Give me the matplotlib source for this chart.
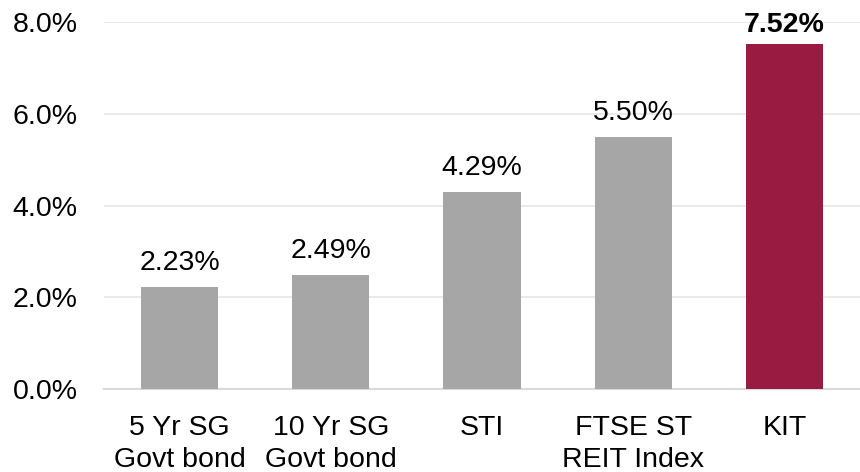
import numpy as np
import matplotlib
matplotlib.use("Agg")
import matplotlib.pyplot as plt

plt.rcParams['font.family'] = ['Liberation Sans', 'DejaVu Sans']

categories = ["5 Yr SG\nGovt bond", "10 Yr SG\nGovt bond", "STI", "FTSE ST\nREIT Index", "KIT"]
yields = [2.23, 2.49, 4.29, 5.50, 7.52]
colors = ["#A6A6A6", "#A6A6A6", "#A6A6A6", "#A6A6A6", "#9A1B41"]

fig = plt.figure(figsize=(8.6, 4.72), dpi=100)
ax = fig.add_axes([0.121, 0.176, 0.879, 0.777])

x = np.arange(len(categories))
ax.bar(x, yields, width=0.51, color=colors, zorder=3)

for i, v in enumerate(yields):
    kit = categories[i] == "KIT"
    ax.annotate("%.2f%%" % v, (x[i], v), xytext=(0, 4.5 if kit else 8), textcoords="offset points",
                ha="center", va="bottom", fontsize=20.5,
                fontweight="bold" if kit else "normal")

ax.set_ylim(0, 8)
ax.set_xlim(-0.5, len(categories) - 0.5)
ax.set_yticks([0, 2, 4, 6, 8])
ax.set_yticklabels(["%.1f%%" % t for t in [0, 2, 4, 6, 8]])
ax.set_xticks(x)
ax.set_xticklabels(categories, linespacing=1.28)
ax.tick_params(axis="both", length=0, labelsize=20.5)
ax.tick_params(axis="y", pad=19)
ax.tick_params(axis="x", pad=19)
ax.yaxis.grid(True, color="#E6E6E6", linewidth=1.2, zorder=0)
for s in ["top", "right", "left"]:
    ax.spines[s].set_visible(False)
ax.spines["bottom"].set_color("#D9D9D9")
ax.spines["bottom"].set_linewidth(1.5)

fig.savefig("out.png", dpi=100)
